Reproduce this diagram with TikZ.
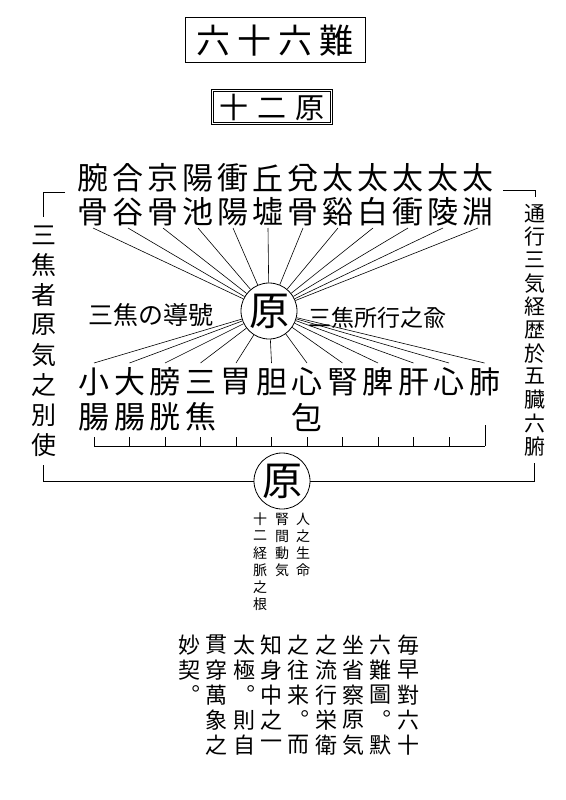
\documentclass[tikz,border=0pt]{standalone}
\usepackage{fontspec}
\newfontfamily\jp{Noto Sans CJK JP}
\usetikzlibrary{positioning}

\begin{document}
\begin{tikzpicture}[x=1pt, y=-1pt, line width=0.8pt,
  zi/.style={inner sep=0, font=\jp\fontsize{#1}{#1}\selectfont},
  ray/.style={line width=0.6pt},
  hara/.style={circle, draw, minimum size=56pt, inner sep=0, font=\jp\fontsize{40}{40}\selectfont}]
  \useasboundingbox (0,0) rectangle (565,800);

  % 标题
  \node[draw, line width=1pt, minimum width=180pt, minimum height=45pt, zi=34] (title) at (275,40.5)
    {六\kern7pt 十\kern7pt 六\kern7pt 難};
  \node[draw, double, double distance=1.6pt, minimum width=119pt, minimum height=33pt, zi=29] (sub) at (272,107)
    {十\kern9pt 二\kern9pt 原};

  \node[hara] (yuan) at (269,311) {原};

  % 十二原穴
  \foreach \a/\b [count=\i] in {腕/骨,合/谷,京/骨,陽/池,衝/陽,丘/墟,兌/骨,太/谿,太/白,太/衝,太/陵,太/淵} {
    \node[zi=31] (up\i) at ({58+35*\i},178) {\a};
    \node[zi=31] (upb\i) at ({58+35*\i},212) {\b};
    \coordinate (upend\i) at ({58+35*\i},228);
    \draw[ray] (upend\i) -- (yuan);
  }

  % 十二臓腑
  \foreach \a [count=\i] in {小,大,膀,三,胃,胆,心,腎,脾,肝,心,肺} {
    \node[zi=31] (dn\i) at ({58.5+35.5*\i},382) {\a};
    \coordinate (dnend\i) at ({58.5+35.5*\i},363);
    \draw[ray] (yuan) -- (dnend\i);
  }
  \foreach \i/\b in {1/腸,2/腸,3/胱,4/焦,7/包}
    \node[zi=31] (dnb\i) at ({58.5+35.5*\i},417) {\b};

  % 尺线
  \coordinate (rulerL) at (94,446);
  \coordinate (rulerR) at (485,446);
  \draw (rulerL) -- (rulerR);
  \foreach \i in {1,...,11} \draw ({58.5+35.5*\i},446) -- ++(0,-9);
  \draw (rulerR) -- ++(0,-21);

  \node[zi=25] (lbl) at (151,315) {三焦の導號};
  \node[zi=23] (lbr) at (377,318) {三焦所行之兪};

  % 两侧竖排
  \foreach \c [count=\i] in {三,焦,者,原,気,之,別,使}
    \node[zi=25] (ls\i) at (44,{205+30*\i}) {\c};
  \foreach \c [count=\i] in {通,行,三,気,経,歴,於,五,臓,六,腑}
    \node[zi=21] (rs\i) at (535,{190+23.3*\i}) {\c};

  \node[hara] (yuan2) at (282,481) {原};

  \coordinate (LA) at (65,192);
  \coordinate (LB) at (43,217);
  \coordinate (LC) at (43,465);
  \coordinate (RA) at (503,190);
  \coordinate (RB) at (535,197);
  \coordinate (RC) at (534,463);
  \draw (LA) -| (LB);
  \draw (RA) -| (RB);
  \draw (LC) |- (yuan2);
  \draw (RC) |- (yuan2);

  % 下方小字
  \foreach \c [count=\i] in {人,之,生,命}
    \node[zi=14] (sa\i) at (303,{502+17*\i}) {\c};
  \foreach \c [count=\i] in {腎,間,動,気}
    \node[zi=14] (sb\i) at (282,{502+17*\i}) {\c};
  \foreach \c [count=\i] in {十,二,経,脈,之,根}
    \node[zi=14] (sc\i) at (260,{502+17*\i}) {\c};

  % 跋文
  \foreach \col [count=\k] in {{毎,早,對,六,十},{六,難,圖,︒,默},{坐,省,察,原,気},{之,流,行,栄,衛},{之,往,来,︒,而},{知,身,中,之,一},{太,極,︒,則,自},{貫,穿,萬,象,之},{妙,契,︒}}
    \foreach \c [count=\j] in \col
      \node[zi=22] (p\k-\j) at ({435.3-27.3*\k},{620+25*\j}) {\c};
\end{tikzpicture}
\end{document}
